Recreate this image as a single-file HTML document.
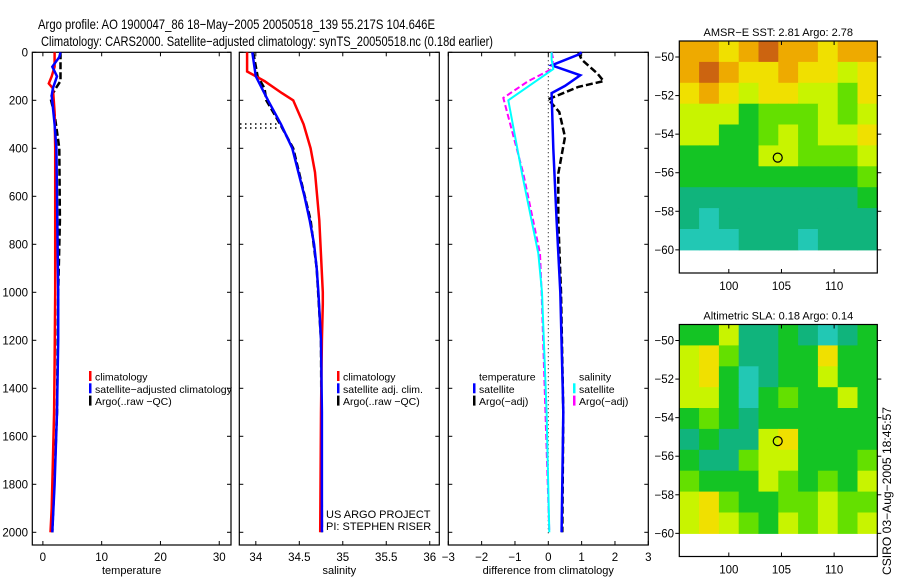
<!DOCTYPE html>
<html><head><meta charset="utf-8"><style>
html,body{margin:0;padding:0;background:#fff;}
svg{display:block;font-family:"Liberation Sans",sans-serif;}
</style></head><body>
<svg id="fig" width="900" height="580" viewBox="0 0 900 580">
<text x="38" y="29" font-size="14" textLength="397" lengthAdjust="spacingAndGlyphs">Argo profile: AO 1900047_86 18−May−2005 20050518_139 55.217S 104.646E</text>
<text x="41" y="46" font-size="14" textLength="452" lengthAdjust="spacingAndGlyphs">Climatology: CARS2000. Satellite−adjusted climatology: synTS_20050518.nc (0.18d earlier)</text>
<text transform="translate(891,575) rotate(-90)" font-size="11.5" textLength="168" lengthAdjust="spacingAndGlyphs">CSIRO 03−Aug−2005 18:45:57</text>
</svg>
<script>
// ---- data ----
const depthTicks=[0,200,400,600,800,1000,1200,1400,1600,1800,2000];
const tempTicks=[0,10,20,30];
const salTicks=[34,34.5,35,35.5,36];
const salTickLabels=["34","34.5","35","35.5","36"];
const diffTicks=[-3,-2,-1,0,1,2,3];

const tClimDepth=[0,60,100,130,150,250,400,1000,1300,1500,1700,1900,2000];
const tClim=[2.0,2.0,1.5,1.0,1.7,2.0,2.1,2.1,2.0,1.9,1.7,1.5,1.3];
const tSatDepth=[0,20,60,100,150,180,300,400,1000,1200,1500,1800,2000];
const tSat=[3.0,2.8,1.6,2.4,1.7,1.5,2.0,2.3,2.6,2.6,2.4,2.0,1.6];
const tArgoDepth=[0,120,150,190,260,400,700,1000,1500,2000];
const tArgo=[3.0,3.0,2.2,1.3,2.0,2.8,2.9,2.6,2.4,1.6];

const sClimDepth=[0,80,120,170,200,300,400,500,700,1000,1050,1200,1500,2000];
const sClim=[33.9,33.9,34.1,34.3,34.43,34.55,34.63,34.68,34.73,34.77,34.77,34.76,34.75,34.74];
const sSatDepth=[0,100,200,300,400,500,600,700,800,900,1000,1200,1500,2000];
const sSat=[33.96,34.0,34.14,34.29,34.42,34.49,34.56,34.62,34.67,34.70,34.72,34.75,34.76,34.76];
const sArgoDepth=[0,100,150,200,300,400,700,900,1200,2000];
const sArgo=[33.97,34.02,34.1,34.12,34.28,34.43,34.63,34.70,34.75,34.76];

const dTSatDepth=[0,10,54,96,140,170,400,700,1000,1500,2000];
const dTSat=[1.0,0.9,0.1,0.96,0.5,0.1,0.15,0.25,0.36,0.45,0.4];
const dTArgoDepth=[0,30,89,120,144,196,249,353,505,700,1000,1500,2000];
const dTArgo=[0.9,1.0,1.48,1.66,0.9,0.0,0.33,0.5,0.3,0.3,0.38,0.45,0.42];
const dSSatDepth=[0,30,70,200,505,838,1000,1500,2000];
const dSSat=[0.1,0.1,0.15,-1.2,-0.79,-0.3,-0.19,-0.05,0.03];
const dSArgoDepth=[0,30,70,120,190,505,838,1000,2000];
const dSArgo=[0.1,0.15,0.1,-0.6,-1.35,-0.75,-0.25,-0.2,0.03];

const lonTicks=[100,105,110];
const latTicks=[-50,-52,-54,-56,-58,-60];
const sstGrid=[
[6,6,5,6,7,6,6,5,6,6],
[6,7,6,5,5,6,5,5,4,5],
[5,6,5,4,5,5,4,4,3,5],
[4,4,4,2,3,3,3,4,3,4],
[4,4,2,2,3,4,3,4,4,5],
[2,2,2,2,4,4,3,3,3,4],
[2,2,2,2,2,2,2,2,2,3],
[1,1,1,1,1,1,1,1,1,2],
[1,0,1,1,1,1,1,1,1,1],
[0,0,0,1,1,1,0,1,1,1]];
const slaGrid=[
[2,2,4,1,1,2,1,0,1,2],
[4,5,3,1,1,2,2,5,2,2],
[4,5,2,0,1,2,2,4,2,2],
[4,4,2,0,2,3,2,2,4,2],
[2,3,2,1,2,2,2,2,2,2],
[1,2,1,1,4,5,2,2,2,2],
[2,1,1,3,4,4,2,2,2,3],
[3,2,2,2,4,3,2,3,2,4],
[4,5,3,2,2,3,3,4,3,3],
[4,5,4,3,2,4,3,4,3,4]];
const floatLon=104.646, floatLat=-55.217;

// ---- drawing ----
const svg=document.getElementById('fig');
const NS='http://www.w3.org/2000/svg';
function mk(tag,attrs,parent){const e=document.createElementNS(NS,tag);for(const k in attrs)e.setAttribute(k,attrs[k]);(parent||svg).appendChild(e);return e;}
const Y0=52.3, YS=(532.3-52.3)/2000, YB=545;
const yD=d=>Y0+d*YS;
const panels=[
 {name:'temperature',x0:32.3,x1:231,v0:-1.8,v1:32,ticks:tempTicks,labels:tempTicks.map(String),title:'temperature'},
 {name:'salinity',x0:239.3,x1:439.3,v0:33.81,v1:36.11,ticks:salTicks,labels:salTickLabels,title:'salinity'},
 {name:'difference',x0:448.3,x1:648.3,v0:-3,v1:3,ticks:diffTicks,labels:diffTicks.map(String),title:'difference from climatology'}];
panels.forEach((p,i)=>{
 p.x=v=>p.x0+(v-p.v0)/(p.v1-p.v0)*(p.x1-p.x0);
 const g=mk('g',{});
 
 
 const r=mk('rect',{x:p.x0,y:Y0,width:p.x1-p.x0,height:YB-Y0,fill:'none',stroke:'#000','stroke-width':1.2},g);
 
 
 depthTicks.forEach(d=>{
  const y=yD(d);
  mk('line',{x1:p.x0,x2:p.x0+4,y1:y,y2:y,stroke:'#000'},g);
  mk('line',{x1:p.x1,x2:p.x1-4,y1:y,y2:y,stroke:'#000'},g);
  if(i===0){const t=mk('text',{x:28,y:y+4,'font-size':11.5,'text-anchor':'end'},g);t.textContent=d;
   
   }
 });
 p.ticks.forEach((v,k)=>{
  const x=p.x(v);
  mk('line',{x1:x,x2:x,y1:YB,y2:YB-4,stroke:'#000'},g);
  mk('line',{x1:x,x2:x,y1:Y0,y2:Y0+4,stroke:'#000'},g);
  const t=mk('text',{x:x,y:561,'font-size':11.5,'text-anchor':'middle'},g);t.textContent=p.labels[k].replace('-','−');
  
  
 });
 const tt=mk('text',{x:(p.x0+p.x1)/2,y:574,'font-size':11,'text-anchor':'middle'},g);tt.textContent=p.title;
 
 
});
function line(p,ds,vs,color,w,dash,name){
 const pts=ds.map((d,k)=>p.x(vs[k]).toFixed(1)+','+yD(d).toFixed(1)).join(' ');
 const a={points:pts,fill:'none',stroke:color,'stroke-width':w};
 if(dash)a['stroke-dasharray']=dash;
 const e=mk('polyline',a);
 
 
}
const [PT,PS,PD]=panels;
line(PT,tArgoDepth,tArgo,'#000',2.5,'7,3','temp-argo-line');
line(PT,tClimDepth,tClim,'#f00',2.5,null,'temp-climatology-line');
line(PT,tSatDepth,tSat,'#00f',2.5,null,'temp-satellite-line');
line(PS,sArgoDepth,sArgo,'#000',2.5,'7,3','sal-argo-line');
line(PS,sClimDepth,sClim,'#f00',2.5,null,'sal-climatology-line');
line(PS,sSatDepth,sSat,'#00f',2.5,null,'sal-satellite-line');
[124,128].forEach((y,k)=>{const e=mk('line',{x1:240,x2:279-k*2,y1:y,y2:y,stroke:'#000','stroke-width':1.5,'stroke-dasharray':'1.5,3.5'});
 
 });
const zl=mk('line',{x1:PD.x(0),x2:PD.x(0),y1:Y0,y2:YB-10,stroke:'#000','stroke-width':1,'stroke-dasharray':'1,3'});


line(PD,dTArgoDepth,dTArgo,'#000',2.5,'7,3','diff-temp-argo-line');
line(PD,dTSatDepth,dTSat,'#00f',2.5,null,'diff-temp-satellite-line');
line(PD,dSArgoDepth,dSArgo,'#f0f',2,'6,3','diff-sal-argo-line');
line(PD,dSSatDepth,dSSat,'#0ff',2,null,'diff-sal-satellite-line');
function legend(x,y,items,name){
 const g=mk('g',{});
 
 
 items.forEach((it,k)=>{
  const yy=y+k*12.3;
  if(it[1]){mk('rect',{x:x,y:yy-5,width:2.5,height:10,fill:it[1]},g);}
  const t=mk('text',{x:x+6,y:yy+4.5,'font-size':10.5},g);t.textContent=it[0];
  
  
 });
}
legend(89,376,[['climatology','#f00'],['satellite−adjusted climatology','#00f'],['Argo(..raw −QC)','#000']],'temperature-legend');
legend(337,376,[['climatology','#f00'],['satellite adj. clim.','#00f'],['Argo(..raw −QC)','#000']],'salinity-legend');
legend(473,376,[['temperature',null],['satellite','#00f'],['Argo(−adj)','#000']],'diff-temp-legend');
legend(573,376,[['salinity',null],['satellite','#0ff'],['Argo(−adj)','#f0f']],'diff-sal-legend');
[['US ARGO PROJECT',518],['PI: STEPHEN RISER',530]].forEach(a=>{const t=mk('text',{x:326,y:a[1],'font-size':11});t.textContent=a[0];
 
 });
const palette=['#22c8b4','#10b47c','#14c424','#64e000','#c8f400','#f0e000','#eeaa00','#cc6410'];
const lonMin=95.3,lonMax=114.1,latTop=-49.17,latBot=-61.2,latData=-60;
function map(top,grid,title,name){
 const L=679.3,R=877.3,B=top+232;
 const X=lon=>L+(lon-lonMin)/(lonMax-lonMin)*(R-L);
 const Y=lat=>top+(latTop-lat)/(latTop-latBot)*(B-top);
 const g=mk('g',{});
 
 
 const rows=grid.length, cols=grid[0].length;
 const dLat=(latData-latTop)/rows, dLon=(lonMax-lonMin)/cols;
 grid.forEach((row,r)=>row.forEach((v,c)=>{
  const x0=X(lonMin+c*dLon),x1=X(lonMin+(c+1)*dLon),y0=Y(latTop+r*dLat),y1=Y(latTop+(r+1)*dLat);
  const e=mk('rect',{x:x0.toFixed(1),y:y0.toFixed(1),width:(x1-x0+0.5).toFixed(1),height:(y1-y0+0.5).toFixed(1),fill:palette[v]},g);
  
  
 }));
 mk('rect',{x:L,y:top,width:R-L,height:B-top,fill:'none',stroke:'#000','stroke-width':1.2},g);
 lonTicks.forEach(l=>{const x=X(l);mk('line',{x1:x,x2:x,y1:B,y2:B-4,stroke:'#000'},g);mk('line',{x1:x,x2:x,y1:top,y2:top+4,stroke:'#000'},g);
  const t=mk('text',{x:x,y:B+17,'font-size':11.5,'text-anchor':'middle'},g);t.textContent=l;
  
  });
 latTicks.forEach(l=>{const y=Y(l);mk('line',{x1:L,x2:L-4,y1:y,y2:y,stroke:'#000'},g);mk('line',{x1:R,x2:R+4,y1:y,y2:y,stroke:'#000'},g);
  const t=mk('text',{x:674,y:y+4,'font-size':11.5,'text-anchor':'end'},g);t.textContent=String(l).replace('-','−');
  
  });
 const c=mk('circle',{cx:X(floatLon),cy:Y(floatLat),r:4.5,fill:'none',stroke:'#000','stroke-width':1.2},g);
 
 
 const t=mk('text',{x:(L+R)/2,y:top-5,'font-size':11,'text-anchor':'middle'},g);t.textContent=title;
 
 
}
map(41,sstGrid,'AMSR−E SST: 2.81 Argo: 2.78','sst-map');
map(324.5,slaGrid,'Altimetric SLA: 0.18 Argo: 0.14','sla-map');
</script>
</body></html>
